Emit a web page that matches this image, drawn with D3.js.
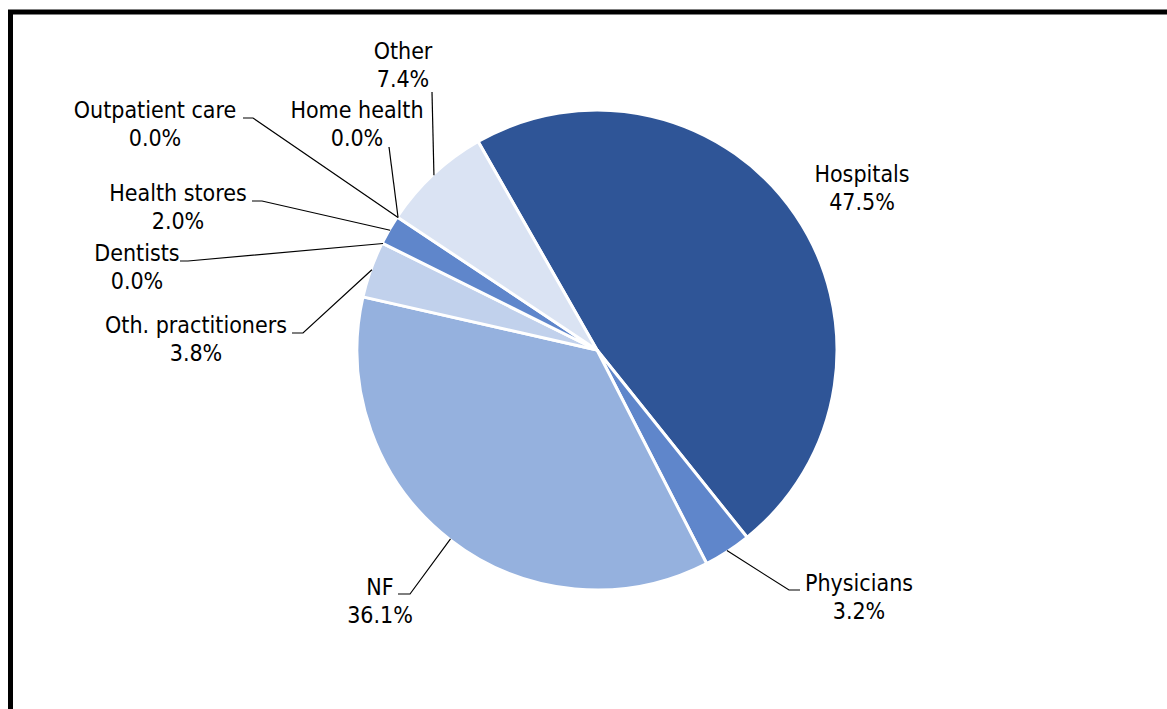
<!DOCTYPE html>
<html>
<head>
<meta charset="utf-8">
<script src="https://cdn.jsdelivr.net/npm/d3@7"></script>
<style>
  html, body { margin: 0; padding: 0; background: #ffffff; overflow: hidden; }
  svg { display: block; }
  text { font-family: "DejaVu Sans Condensed", "DejaVu Sans", sans-serif; font-stretch: condensed; font-size: 23px; fill: #000; }
</style>
</head>
<body>
<svg id="chart" width="1167" height="709"></svg>
<script>
// ---- data ----
const categories = ["Hospitals", "Physicians", "NF", "Oth. practitioners", "Dentists",
                    "Health stores", "Outpatient care", "Home health", "Other"];
const shares = [47.5, 3.2, 36.1, 3.8, 0.0, 2.0, 0.0, 0.0, 7.4];
const sliceColors = ["#2F5597", "#5F86CB", "#95B1DE", "#C1D1EC", "#5F86CB",
                     "#5F86CB", "#5F86CB", "#5F86CB", "#DAE3F3"];

// ---- layout (label anchor points: text centre x, first baseline y, leader knee) ----
const labelLayout = [
  { x: 862, y: 182, leader: false },
  { x: 859, y: 591, leader: true, kneeX: 789, kneeY: 590, endX: 800 },
  { x: 380, y: 595, leader: true, kneeX: 410, kneeY: 594, endX: 398 },
  { x: 196, y: 333, leader: true, kneeX: 303, kneeY: 333, endX: 292 },
  { x: 137, y: 261, leader: true, kneeX: 188, kneeY: 261, endX: 180 },
  { x: 178, y: 201, leader: true, kneeX: 262, kneeY: 201, endX: 252 },
  { x: 155, y: 118, leader: true, kneeX: 253, kneeY: 118, endX: 243 },
  { x: 357, y: 118, leader: true, kneeX: 389, kneeY: 147, endX: 389 },
  { x: 403, y: 59,  leader: true, kneeX: 432, kneeY: 92,  endX: 432 }
];

const svg = d3.select("#chart");
const cx = 597, cy = 350, R = 240;
const startA = -29.7 * Math.PI / 180;

// frame (extends beyond the viewport on right / bottom)
svg.append("rect")
  .attr("x", 10.5).attr("y", 12)
  .attr("width", 1300).attr("height", 900)
  .attr("fill", "none").attr("stroke", "#000").attr("stroke-width", 5);

const data = categories.map((c, i) => ({ name: c, value: shares[i], color: sliceColors[i], lay: labelLayout[i] }));

const pie = d3.pie().value(d => d.value).sort(null)
  .startAngle(startA).endAngle(startA + 2 * Math.PI);
const arcs = pie(data);
const arc = d3.arc().innerRadius(0).outerRadius(R);

const g = svg.append("g").attr("transform", `translate(${cx},${cy})`);

g.selectAll("path.slice")
  .data(arcs.filter(a => a.data.value > 0))
  .join("path")
  .attr("class", "slice")
  .attr("d", arc)
  .attr("fill", d => d.data.color)
  .attr("stroke", "#fff")
  .attr("stroke-width", 3)
  .attr("stroke-linejoin", "round");

// leader lines: from the slice mid-angle on the rim to the label knee
const rimPoint = a => {
  const m = (a.startAngle + a.endAngle) / 2;
  return [cx + Math.sin(m) * (R - 1), cy - Math.cos(m) * (R - 1)];
};

const leaders = svg.append("g");
arcs.forEach(a => {
  const L = a.data.lay;
  if (!L.leader) return;
  const p = rimPoint(a);
  const pts = [[L.endX, L.kneeY], [L.kneeX, L.kneeY], p];
  leaders.append("path")
    .attr("d", d3.line()(pts))
    .attr("fill", "none")
    .attr("stroke", "#000")
    .attr("stroke-width", 1.2);
});

// labels
const fmt = d3.format(".1f");
const labels = svg.append("g");
arcs.forEach(a => {
  const L = a.data.lay;
  const t = labels.append("text").attr("text-anchor", "middle");
  t.append("tspan").attr("x", L.x).attr("y", L.y).text(a.data.name);
  t.append("tspan").attr("x", L.x).attr("y", L.y + 28).text(fmt(a.data.value) + "%");
});
</script>
</body>
</html>
